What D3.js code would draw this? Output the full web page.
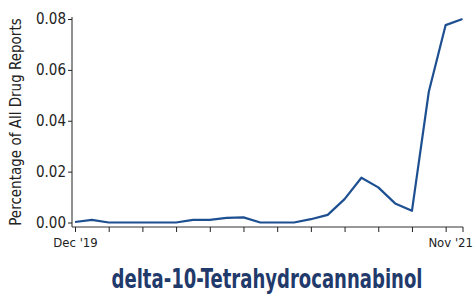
<!DOCTYPE html>
<html><head><meta charset="utf-8">
<script src="https://cdn.jsdelivr.net/npm/d3@7"></script>
<style>body{margin:0;background:#fff}svg{display:block}</style>
</head><body>
<svg id="c" width="474" height="295"></svg>
<script>
const months = ["Dec '19","Jan '20","Feb '20","Mar '20","Apr '20","May '20","Jun '20","Jul '20","Aug '20","Sep '20","Oct '20","Nov '20","Dec '20","Jan '21","Feb '21","Mar '21","Apr '21","May '21","Jun '21","Jul '21","Aug '21","Sep '21","Oct '21","Nov '21"];
const values = [0.0002,0.001,0,0,0,0,0,0.001,0.001,0.0018,0.002,0,0,0,0.0013,0.003,0.0092,0.0176,0.0138,0.0075,0.0046,0.0514,0.0776,0.080];
const yTicks = [0,0.02,0.04,0.06,0.08];
const xLabels = {"Dec '19":"Dec '19","Nov '21":"Nov '21"};
const title = "delta-10-Tetrahydrocannabinol";
const yTitle = "Percentage of All Drug Reports";

const svg = d3.select("#c");
const font = "'Liberation Sans Narrow','DejaVu Sans Condensed',sans-serif";
const x = d3.scalePoint().domain(months).range([75,462.5]);
const y = d3.scaleLinear().domain([0,0.08]).range([222.5,19]);

// y axis
const ya = svg.append("g").attr("transform","translate(72,0)")
  .call(d3.axisLeft(y).tickValues(yTicks).tickFormat(d3.format(".2f")).tickSize(4).tickSizeOuter(0));
ya.select(".domain").attr("d","M0,17V227").attr("stroke","#222");
ya.selectAll(".tick line").attr("stroke","#222");
ya.selectAll("text").attr("font-family",font).attr("font-size",15).attr("fill","#222").attr("x",-6);

// x axis
const xa = svg.append("g").attr("transform","translate(0,227)")
  .call(d3.axisBottom(x).tickValues(months.filter((d,i)=>i%2===0).concat(["Nov '21"])).tickSize(5).tickSizeOuter(0).tickFormat(d=>xLabels[d]||""));
xa.select(".domain").attr("d","M72,0H463").attr("stroke","#333");
xa.selectAll(".tick line").attr("stroke","#222");
xa.selectAll("text").attr("font-family",font).attr("font-size",13).attr("fill","#222").attr("dy","0.95em");
xa.selectAll(".tick text").filter(d=>d==="Nov '21").attr("text-anchor","end").attr("x",10);

// line
svg.append("path").datum(values)
  .attr("fill","none").attr("stroke","#1d4f91").attr("stroke-width",2.2).attr("stroke-linejoin","round")
  .attr("d",d3.line().x((d,i)=>x(months[i])).y(d=>y(d)));

// y title
svg.append("text").attr("transform","translate(21,122) rotate(-90)")
  .attr("text-anchor","middle").attr("font-family",font).attr("font-size",15).attr("fill","#222").text(yTitle);

// title
svg.append("text").attr("x",267).attr("y",288).attr("text-anchor","middle")
  .attr("font-family",font).attr("font-weight","bold").attr("font-size",26).attr("fill","#1f3a6b")
  .attr("textLength",311).attr("lengthAdjust","spacingAndGlyphs").text(title);
</script>
</body></html>
